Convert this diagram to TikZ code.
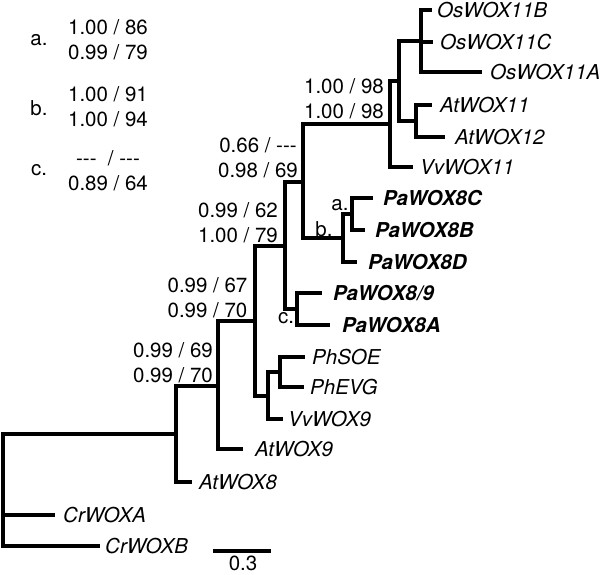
\documentclass[tikz,border=0pt]{standalone}
\usepackage{fontspec}
\setmainfont{TeX Gyre Heros}
\newcommand{\tripdash}{-{}-{}-}
\begin{document}
\begin{tikzpicture}[x=1pt,y=-1pt,
  br/.style={line width=3.3pt, line join=miter},
  lab/.style={anchor=west, inner sep=0pt, font=\fontsize{20.5}{25}\selectfont\itshape},
  pa/.style={anchor=west, inner sep=0pt, font=\fontsize{20.5}{25}\selectfont\bfseries\itshape},
  sup/.style={align=center, inner sep=0pt, font=\fontsize{20.5}{25}\selectfont},
  let/.style={inner sep=0pt, font=\fontsize{20.5}{25}\selectfont},
]
\useasboundingbox (0,0) rectangle (600,575);

% internal nodes
\coordinate (root) at (3,490);
\coordinate (N1) at (176,434);
\coordinate (N2) at (218,386);
\coordinate (N3) at (255,321);
\coordinate (N4) at (285,246);
\coordinate (N5) at (303,182);
\coordinate (N6) at (390,124);
\coordinate (N8) at (399,81);
\coordinate (N9) at (421,41);
\coordinate (N10) at (416,121);
\coordinate (N7) at (343,238);
\coordinate (Na) at (352,214);
\coordinate (Nc) at (297,309);
\coordinate (N11) at (268,396);
\coordinate (N12) at (280,372);

% tips
\coordinate (tOsB) at (432,10);
\coordinate (tOsC) at (433,42);
\coordinate (tOsA) at (482,72);
\coordinate (tAt11) at (432,105);
\coordinate (tAt12) at (445,137);
\coordinate (tVv11) at (413,167);
\coordinate (tPaC) at (373,198);
\coordinate (tPaB) at (365,230);
\coordinate (tPaD) at (357,262);
\coordinate (tPa9) at (322,293);
\coordinate (tPaA) at (330,325);
\coordinate (tSOE) at (305,357);
\coordinate (tEVG) at (304,387);
\coordinate (tVv9) at (283,419);
\coordinate (tAt9) at (243,449);
\coordinate (tAt8) at (192,482);
\coordinate (tCrA) at (55,515);
\coordinate (tCrB) at (100,546);

% labels
\node[lab] (lOsB) at (437,10) {OsWOX11B};
\node[lab] (lOsC) at (440,42) {OsWOX11C};
\node[lab] (lOsA) at (490,72) {OsWOX11A};
\node[lab] (lAt11) at (440,105) {AtWOX11};
\node[lab] (lAt12) at (455,137) {AtWOX12};
\node[lab] (lVv11) at (420,167) {VvWOX11};
\node[pa] (lPaC) at (383,198) {PaWOX8C};
\node[pa] (lPaB) at (375,230) {PaWOX8B};
\node[pa] (lPaD) at (368,262) {PaWOX8D};
\node[pa] (lPa9) at (333,293) {PaWOX8/9};
\node[pa] (lPaA) at (342,325) {PaWOX8A};
\node[lab] (lSOE) at (312,357) {PhSOE};
\node[lab] (lEVG) at (310,387) {PhEVG};
\node[lab] (lVv9) at (288,419) {VvWOX9};
\node[lab] (lAt9) at (255,449) {AtWOX9};
\node[lab] (lAt8) at (199,482) {AtWOX8};
\node[lab] (lCrA) at (63,515) {CrWOXA};
\node[lab] (lCrB) at (105,546) {CrWOXB};

% branches
\draw[br] (root) |- (N1);
\draw[br] (root) |- (tCrA);
\draw[br] (root) |- (tCrB);
\draw[br] (N1) |- (N2);
\draw[br] (N1) |- (tAt8);
\draw[br] (N2) |- (N3);
\draw[br] (N2) |- (tAt9);
\draw[br] (N3) |- (N4);
\draw[br] (N3) |- (N11);
\draw[br] (N4) |- (N5);
\draw[br] (N4) |- (Nc);
\draw[br] (N5) |- (N6);
\draw[br] (N5) |- (N7);
\draw[br] (N6) |- (N8);
\draw[br] (N6) |- (tVv11);
\draw[br] (N8) |- (N9);
\draw[br] (N8) |- (N10);
\draw[br] (N9) |- (tOsB);
\draw[br] (N9) |- (tOsC);
\draw[br] (N9) |- (tOsA);
\draw[br] (N10) |- (tAt11);
\draw[br] (N10) |- (tAt12);
\draw[br] (N7) |- (Na);
\draw[br] (N7) |- (tPaD);
\draw[br] (Na) |- (tPaC);
\draw[br] (Na) |- (tPaB);
\draw[br] (Nc) |- (tPa9);
\draw[br] (Nc) |- (tPaA);
\draw[br] (N11) |- (N12);
\draw[br] (N11) |- (tVv9);
\draw[br] (N12) |- (tSOE);
\draw[br] (N12) |- (tEVG);

% support values
\node[sup] (s1) at (344,98.5) {1.00 / 98\\1.00 / 98};
\node[sup] (s2) at (258,157.5) {0.66 / \tripdash\\0.98 / 69};
\node[sup] (s3) at (238,222.5) {0.99 / 62\\1.00 / 79};
\node[sup] (s4) at (207.5,298) {0.99 / 67\\0.99 / 70};
\node[sup] (s5) at (173,362.5) {0.99 / 69\\0.99 / 70};

% node letters
\node[let] (ka) at (340,205) {a.};
\node[let] (kb) at (324,229) {b.};
\node[let] (kc) at (286,318) {c.};

% legend
\node[let] (ga) at (39,40) {a.};
\node[sup] (va) at (108,39.5) {1.00 / 86\\0.99 / 79};
\node[let] (gb) at (39,108) {b.};
\node[sup] (vb) at (108,106.5) {1.00 / 91\\1.00 / 94};
\node[let] (gc) at (39,170) {c.};
\node[sup] (vc) at (108,170.5) {\tripdash~~/ \tripdash\\0.89 / 64};

% scale bar
\coordinate (sbL) at (213,551);
\coordinate (sbR) at (271,551);
\draw[br] (sbL) -- (sbR);
\node[let] (sbt) at (243,563) {0.3};
\end{tikzpicture}
\end{document}
